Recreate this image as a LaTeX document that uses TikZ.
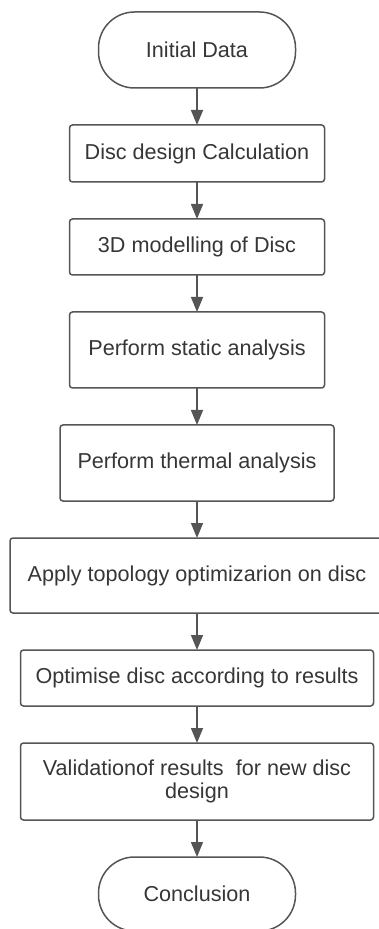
\documentclass[tikz,border=0pt]{standalone}
\usepackage{fontspec}
\setmainfont{Liberation Sans}
\usepackage{xcolor}
\usetikzlibrary{positioning, arrows.meta}

\definecolor{edgegray}{HTML}{555555}
\definecolor{textgray}{HTML}{363636}

\tikzset{
    procbox/.style={draw=edgegray, line width=0.75pt, rounded corners=1.5pt,
        text=textgray, align=center, inner sep=2pt, outer sep=0pt,
        font=\fontsize{10.8pt}{11.6pt}\selectfont},
    termbox/.style={procbox, rounded corners=18pt,
        minimum width=98.5pt, minimum height=37pt},
    flowarrow/.style={draw=edgegray, line width=0.75pt,
        -{Triangle[length=7.5pt, width=6pt]}}
}

\begin{document}
\begin{tikzpicture}[node distance=18.5pt]
    % Page frame
    \useasboundingbox (0,0) rectangle (189.5pt,-464.5pt);

    % Start / end terminals and process steps
    \node[termbox, minimum height=38pt] (init) at (98.5pt,-25pt) {Initial Data};
    \node[procbox, below=of init, minimum width=127.5pt, minimum height=28.5pt] (calc) {Disc design Calculation};
    \node[procbox, below=of calc, minimum width=127.5pt, minimum height=28pt] (model) {3D modelling of Disc};
    \node[procbox, below=of model, minimum width=127.5pt, minimum height=38pt] (static) {Perform static analysis};
    \node[procbox, below=of static, minimum width=137pt, minimum height=38pt] (thermal) {Perform thermal analysis};
    \node[procbox, below=of thermal, minimum width=187pt, minimum height=37.5pt] (topo) {Apply topology optimizarion on disc};
    \node[procbox, below=of topo, minimum width=176.5pt, minimum height=28pt] (optim) {Optimise disc according to results};
    \node[procbox, below=of optim, minimum width=176.5pt, minimum height=38.5pt] (valid) {Validationof results~ for new disc\\design};
    \node[termbox, below=of valid] (concl) {Conclusion};

    % Connectors
    \foreach \a/\b in {init/calc, calc/model, model/static, static/thermal,
                       thermal/topo, topo/optim, optim/valid, valid/concl} {
        \draw[flowarrow] (\a.south) -- (\b.north);
    }
\end{tikzpicture}
\end{document}
